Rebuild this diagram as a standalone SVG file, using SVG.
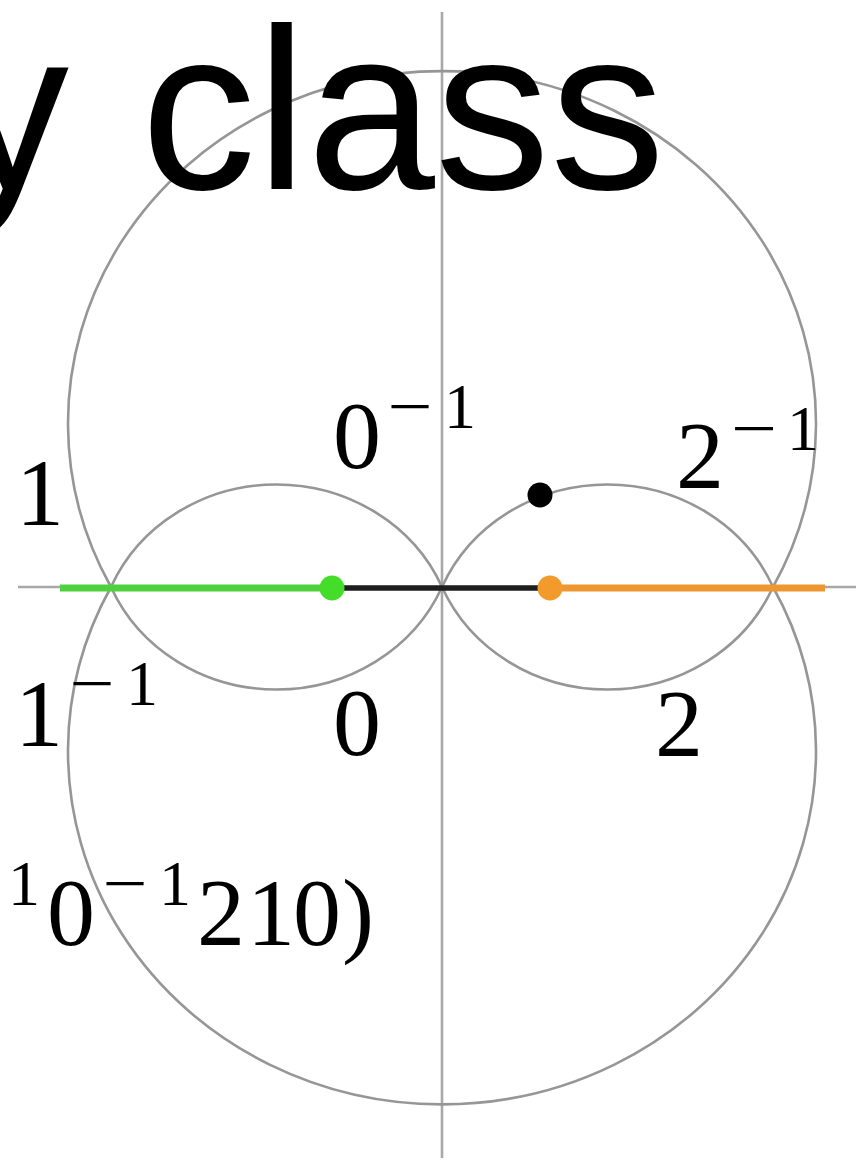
<svg xmlns="http://www.w3.org/2000/svg" width="856" height="1160" viewBox="0 0 856 1160">
<style>
.axis{stroke:#a8a8a8;stroke-width:2.6;fill:none}
.arc{stroke:#969696;stroke-width:2.6;fill:none}
.m{font-family:"Liberation Serif","Times New Roman",serif;fill:#000;text-anchor:middle}
.big{font-size:96px}
.sup{font-size:64px}
.title{font-family:"Liberation Sans",Arial,sans-serif;font-size:230px;fill:#000}
</style>
<rect width="856" height="1160" fill="#fff"/>
<g id="axes">
<line class="axis" x1="442" y1="12" x2="442" y2="1158"/>
<line class="axis" x1="18" y1="587" x2="856" y2="587"/>
</g>
<g id="curves">
<path id="upper-big" class="arc" d="M111 587 A374 352 0 1 1 773 587"/>
<path id="lower-big" class="arc" d="M111 587 A374 353 0 1 0 773 587"/>
<path id="left-small-upper" class="arc" d="M111 587 A180 169 0 0 1 442 587"/>
<path id="left-small-lower" class="arc" d="M111 587 A180 169 0 0 0 442 587"/>
<path id="right-small-upper" class="arc" d="M442 587 A180 169 0 0 1 773 587"/>
<path id="right-small-lower" class="arc" d="M442 587 A180 169 0 0 0 773 587"/>
</g>
<g id="segments">
<line x1="60" y1="588" x2="332" y2="588" stroke="#4fd13e" stroke-width="7"/>
<line x1="550" y1="588" x2="825" y2="588" stroke="#ee9630" stroke-width="7"/>
<line x1="332" y1="588" x2="550" y2="588" stroke="#1e1e1e" stroke-width="5.5"/>
</g>
<g id="dots">
<circle id="dot-green" cx="332" cy="588" r="12.5" fill="#44dd2a"/>
<circle id="dot-orange" cx="550" cy="588" r="12.5" fill="#f29a2c"/>
<circle id="dot-black" cx="540" cy="495" r="12.5" fill="#000"/>
</g>
<g id="title">
<text class="title" x="-46" y="189">y <tspan x="141">class</tspan></text>
</g>
<g id="labels">
<g id="label-1"><text class="m big" x="40" y="525">1</text></g>
<g id="label-0inv"><text class="m big" x="357" y="468">0</text><text class="m sup" x="410" y="428" textLength="45" lengthAdjust="spacingAndGlyphs">−</text><text class="m sup" x="460" y="428">1</text></g>
<g id="label-2inv"><text class="m big" x="700" y="488">2</text><text class="m sup" x="754" y="450" textLength="46" lengthAdjust="spacingAndGlyphs">−</text><text class="m sup" x="803" y="450">1</text></g>
<g id="label-1inv"><text class="m big" x="39" y="746">1</text><text class="m sup" x="92" y="705" textLength="45" lengthAdjust="spacingAndGlyphs">−</text><text class="m sup" x="142" y="705">1</text></g>
<g id="label-0"><text class="m big" x="357" y="755">0</text></g>
<g id="label-2"><text class="m big" x="679" y="756">2</text></g>
<g id="label-word"><text class="m sup" x="24" y="905">1</text><text class="m big" x="71" y="945">0</text><text class="m sup" x="125" y="905" textLength="45" lengthAdjust="spacingAndGlyphs">−</text><text class="m sup" x="175" y="905">1</text><text class="m big" x="221" y="945">2</text><text class="m big" x="271" y="945">1</text><text class="m big" x="317" y="945">0</text><text class="m big" x="358" y="945">)</text></g>
</g>
</svg>
